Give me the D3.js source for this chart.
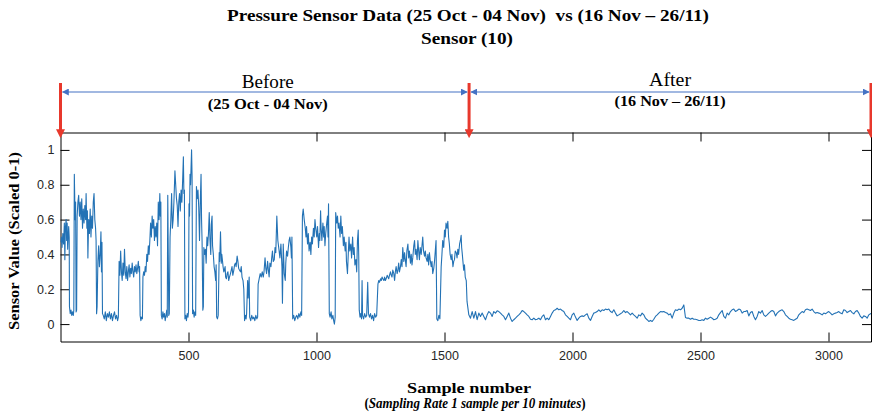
<!DOCTYPE html>
<html>
<head>
<meta charset="utf-8">
<script src="https://cdn.jsdelivr.net/npm/d3@7"></script>
<style>
body { margin: 0; background: #fff; }
svg { display: block; }
</style>
</head>
<body>
<svg width="872" height="418"></svg>
<script>
// before period: [sample, scaled value]
var beforeData = [
	[0,0.47],[3,0.5],[6,0.44],[9,0.52],[12,0.46],[15,0.58],[17,0.37],[19,0.55],[22,0.6],[24,0.48],[26,0.58],[28,0.43],[30,0.5],[32,0.56],[34,0.5],
	[35,0.1],[38,0.06],[41,0.08],[44,0.05],[47,0.07],[50,0.05],[52,0.08],
	[54,0.86],[57,0.6],[59,0.7],[61,0.07],[63,0.08],[65,0.62],
	[68,0.7],[71,0.74],[74,0.62],[77,0.7],[80,0.6],[83,0.72],[86,0.55],[89,0.66],[92,0.58],[95,0.68],[98,0.6],[100,0.75],[103,0.55],[105,0.65],[107,0.38],[110,0.6],[113,0.52],[116,0.66],[119,0.5],[122,0.62],[125,0.55],[128,0.7],[131,0.75],[134,0.6],[137,0.55],[139,0.48],
	[141,0.06],[143,0.1],[146,0.36],[149,0.45],[152,0.33],[155,0.4],[158,0.53],[160,0.3],[162,0.47],[164,0.06],
	[167,0.05],[171,0.03],[175,0.07],[179,0.02],[183,0.06],[187,0.04],[191,0.07],[195,0.03],[199,0.06],[203,0.02],[207,0.05],[211,0.07],[215,0.03],[219,0.05],[223,0.02],[226,0.04],
	[229,0.36],[232,0.28],[235,0.42],[238,0.3],[241,0.25],[244,0.35],[247,0.28],[250,0.43],[253,0.3],[256,0.26],[259,0.33],[262,0.25],[265,0.3],[268,0.34],[271,0.27],[274,0.32],[277,0.29],[280,0.35],[283,0.3],[286,0.27],[289,0.33],[292,0.3],[295,0.34],[298,0.29],[301,0.32],[304,0.36],[307,0.3],[309,0.33],
	[311,0.05],[314,0.02],[317,0.04],[320,0.03],
	[322,0.27],[325,0.3],[328,0.28],[331,0.33],[334,0.3],[337,0.4],[340,0.36],[343,0.45],[346,0.4],[349,0.48],[352,0.58],[355,0.5],[358,0.62],[361,0.55],[364,0.6],[367,0.48],[370,0.56],[373,0.5],[376,0.58],[379,0.45],[382,0.7],[385,0.6],[388,0.75],[390,0.62],[392,0.7],
	[394,0.05],[397,0.03],[400,0.07],[403,0.04],[406,0.06],[409,0.02],[412,0.05],[415,0.08],[417,0.04],
	[419,0.74],[421,0.4],[423,0.05],[425,0.06],
	[428,0.5],[431,0.6],[434,0.75],[437,0.55],[440,0.6],[443,0.7],[447,0.88],[450,0.8],[453,0.72],[456,0.68],[459,0.56],[462,0.7],[465,0.75],[468,0.65],[471,0.77],[474,0.7],[477,0.82],[480,0.96],[482,0.75],[484,0.77],
	[486,0.03],[489,0.05],[492,0.02],[495,0.06],[498,0.04],[500,0.07],
	[502,0.69],[504,0.62],[506,0.86],[508,0.8],[510,0.9],[512,1.0],[514,0.85],
	[516,0.06],[519,0.08],[522,0.04],[525,0.07],[528,0.05],
	[531,0.79],[534,0.72],[537,0.77],[540,0.67],[543,0.48],[546,0.7],[549,0.86],[551,0.6],[553,0.48],[556,0.08],[558,0.1],
	[560,0.44],[563,0.4],[566,0.43],[569,0.35],[572,0.5],[575,0.45],[578,0.52],[581,0.64],[584,0.48],[587,0.4],[589,0.57],[592,0.62],[594,0.45],[597,0.4],[600,0.33],[603,0.3],[606,0.25],[608,0.34],
	[610,0.04],[613,0.03],[616,0.05],
	[620,0.41],[622,0.36],[625,0.53],[628,0.35],[630,0.4],[633,0.36],[635,0.33],[638,0.3],[640,0.31],[643,0.33],[645,0.27],[648,0.26],[651,0.29],[654,0.3],[657,0.25],[660,0.27],[664,0.29],[667,0.31],[670,0.33],[673,0.28],[677,0.31],[680,0.34],[683,0.35],[686,0.33],[690,0.39],[693,0.36],[696,0.32],[699,0.31],[703,0.3],[706,0.33],[709,0.27],[713,0.25],[716,0.2],
	[719,0.02],[722,0.05],[725,0.03],[727,0.06],[731,0.25],[733,0.15],[737,0.27],[739,0.04],[743,0.02],[747,0.05],[751,0.03],[755,0.04],[759,0.02],[763,0.05],[767,0.03],[770,0.04],
	[772,0.23],[776,0.26],[780,0.29],[784,0.27],[788,0.3],[792,0.27],[795,0.3],[799,0.38],[802,0.32],[805,0.29],[809,0.36],[812,0.31],[815,0.27],[818,0.35],[822,0.33],[825,0.38],[828,0.42],[831,0.36],[835,0.37],[838,0.44],[841,0.41],[845,0.62],[849,0.48],[854,0.42],[857,0.38],[861,0.46],[865,0.33],[867,0.12],[870,0.46],[874,0.29],[878,0.25],[880,0.35],[883,0.42],[887,0.39],[890,0.44],[893,0.48],[896,0.5],[900,0.44],[902,0.38],[904,0.5],
	[907,0.03],[911,0.05],[915,0.02],[919,0.04],[923,0.05],[927,0.03],[931,0.06],[935,0.04],[939,0.07],[942,0.05],
	[945,0.62],[948,0.66],[952,0.6],[956,0.55],[959,0.5],[961,0.56],[965,0.46],[968,0.52],[971,0.42],[975,0.47],[978,0.4],[981,0.5],[984,0.46],[988,0.55],[991,0.5],[994,0.6],[997,0.55],[1001,0.5],[1004,0.56],[1008,0.44],[1011,0.52],[1013,0.48],[1016,0.65],[1018,0.55],[1021,0.48],[1025,0.58],[1028,0.5],[1030,0.56],[1033,0.45],[1036,0.52],[1040,0.58],[1043,0.62],[1045,0.5],[1047,0.69],
	[1050,0.06],[1053,0.04],[1057,0.07],[1060,0.03],[1064,0.05],[1067,0.02],[1070,0.0],[1073,0.04],
	[1075,0.64],[1079,0.58],[1082,0.62],[1085,0.55],[1088,0.58],[1092,0.5],[1095,0.62],[1098,0.52],[1101,0.56],[1105,0.45],[1108,0.5],[1112,0.42],[1115,0.47],[1117,0.36],[1121,0.29],[1124,0.4],[1127,0.5],[1130,0.42],[1134,0.46],[1137,0.38],[1141,0.5],[1144,0.4],[1147,0.44],[1150,0.34],[1154,0.37],[1157,0.3],[1160,0.48],[1163,0.54],[1165,0.39],
	[1167,0.08],[1170,0.04],[1173,0.06],[1176,0.03],[1178,0.25],[1180,0.05],[1184,0.03],[1188,0.06],[1192,0.04],[1196,0.05],[1200,0.24],[1203,0.06],[1207,0.04],[1211,0.06],[1215,0.03],[1219,0.05],[1223,0.02],[1227,0.06],[1231,0.04],[1235,0.05],
	[1240,0.23],[1243,0.25],[1246,0.24],[1250,0.26],[1253,0.25],[1256,0.27],[1259,0.26],[1263,0.25],[1266,0.27],[1269,0.25],[1272,0.26],[1276,0.28],[1279,0.27],[1282,0.26],[1285,0.28],[1289,0.3],[1292,0.28],[1295,0.27],[1298,0.31],[1302,0.29],[1305,0.25],[1308,0.3],[1311,0.33],[1315,0.29],[1318,0.31],[1321,0.35],[1324,0.3],[1328,0.33],[1331,0.37],[1334,0.33],[1337,0.44],[1341,0.36],[1344,0.41],[1346,0.38],[1350,0.33],[1353,0.42],[1357,0.46],[1360,0.38],[1363,0.42],[1367,0.35],[1370,0.4],[1373,0.34],[1376,0.38],[1380,0.45],[1383,0.48],[1386,0.4],[1389,0.43],[1393,0.37],[1396,0.48],[1399,0.42],[1402,0.37],[1405,0.44],[1409,0.4],[1412,0.45],[1415,0.5],[1418,0.42],[1422,0.39],[1425,0.42],[1428,0.38],[1432,0.36],[1435,0.4],[1438,0.34],[1441,0.41],[1444,0.37],[1448,0.33],[1451,0.36],[1454,0.29],[1458,0.32],[1461,0.36],[1464,0.42],[1467,0.48],
	[1470,0.03],[1474,0.02],[1478,0.05],[1482,0.03],
	[1487,0.33],[1490,0.4],[1493,0.48],[1497,0.44],[1500,0.54],[1503,0.5],[1506,0.58],[1510,0.55],[1513,0.59],[1516,0.5],[1519,0.46],[1522,0.4],[1526,0.37],[1529,0.4],[1533,0.33],[1536,0.36],[1539,0.37],[1542,0.42],[1546,0.41],[1549,0.38],[1552,0.43],[1555,0.4],[1559,0.46],[1562,0.48],[1565,0.51],[1567,0.44],[1569,0.41],[1572,0.36],[1575,0.31],[1578,0.34],[1581,0.27],[1585,0.25],
	[1588,0.13]
];

// after period: evenly spaced readings from sample 1595
var afterStart = 1595, afterStep = 6.51;
var afterValues = [
	0.053,0.034,0.072,0.034,0.072,0.025,0.063,0.044,0.063,0.044,
	0.025,0.053,0.072,0.063,0.044,0.072,0.063,0.076,0.072,0.063,
	0.053,0.044,0.025,0.044,0.063,0.034,0.015,0.025,0.034,0.044,
	0.053,0.063,0.078,0.072,0.063,0.053,0.044,0.028,0.025,0.034,
	0.025,0.028,0.034,0.025,0.044,0.053,0.025,0.034,0.025,0.044,
	0.063,0.078,0.082,0.091,0.082,0.086,0.078,0.072,0.053,0.044,
	0.034,0.025,0.053,0.063,0.04,0.021,0.034,0.044,0.047,0.044,
	0.053,0.059,0.034,0.021,0.044,0.063,0.066,0.072,0.082,0.072,
	0.082,0.078,0.086,0.082,0.086,0.072,0.066,0.082,0.063,0.047,
	0.053,0.059,0.066,0.078,0.066,0.072,0.063,0.053,0.063,0.053,
	0.044,0.034,0.053,0.047,0.063,0.053,0.034,0.025,0.015,0.021,
	0.015,0.028,0.044,0.053,0.063,0.072,0.07,0.072,0.066,0.063,
	0.053,0.059,
	0.034,0.063,0.082,0.078,0.086,0.082,0.091,0.11,0.038,0.034,
	0.034,0.028,0.034,0.028,0.028,0.025,0.021,0.021,0.025,0.021,
	0.034,0.028,0.034,0.04,0.034,0.025,0.028,0.034,0.053,0.066,
	0.078,0.044,0.034,0.063,0.053,0.072,0.082,0.086,0.072,0.078,
	0.086,0.082,0.063,0.072,0.072,0.078,0.047,0.066,0.072,0.044,
	0.025,0.044,0.072,0.063,0.078,0.053,0.044,0.053,0.063,0.072,
	0.078,0.072,0.047,0.063,0.072,0.078,0.082,0.072,0.053,0.044,
	0.034,0.028,0.025,0.021,0.028,0.034,0.053,0.063,0.072,0.066,
	0.082,0.086,0.082,0.078,0.086,0.072,0.063,0.066,0.063,0.059,
	0.053,0.063,0.059,0.066,0.072,0.063,0.053,0.059,0.063,0.066,
	0.072,0.063,0.059,0.082,0.078,0.066,0.072,0.078,0.066,0.059,
	0.072,0.078,0.063,0.044,0.034,0.047,0.044,0.034,0.053,0.059,
	0.063
];

var xTicks = [500, 1000, 1500, 2000, 2500, 3000];
var yTicks = [0, 0.2, 0.4, 0.6, 0.8, 1];
var periodBounds = [0, 1596, 3166];
var periodNames = ['Before', 'After'];
var periodDates = ['(25 Oct - 04 Nov)', '(16 Nov \u2013 26/11)'];

var serif = '"Liberation Serif", "Times New Roman", serif';
var sans = '"Liberation Sans", Arial, sans-serif';

var svg = d3.select('svg');
var plotLeft = 60.5, plotRight = 871, plotTop = 132.5, plotBottom = 341.5;

var x = d3.scaleLinear().domain([0, 3166]).range([plotLeft, plotRight]);
var y = d3.scaleLinear().domain([-0.1, 1.1]).range([plotBottom, plotTop]);

var series = beforeData.concat(afterValues.map(function(v, i) {
	return [afterStart + i * afterStep, v];
}));

var defs = svg.append('defs');
defs.append('clipPath').attr('id', 'plot-clip')
	.append('rect')
	.attr('x', plotLeft).attr('y', plotTop)
	.attr('width', plotRight - plotLeft).attr('height', plotBottom - plotTop);
defs.append('marker')
	.attr('id', 'red-head')
	.attr('viewBox', '0 0 10 10')
	.attr('refX', 2).attr('refY', 5)
	.attr('markerWidth', 9).attr('markerHeight', 9)
	.attr('markerUnits', 'userSpaceOnUse')
	.attr('orient', 'auto')
	.append('path').attr('d', 'M0,0L10,5L0,10z').attr('fill', '#e8382c');
defs.append('marker')
	.attr('id', 'blue-head')
	.attr('viewBox', '0 0 10 10')
	.attr('refX', 9).attr('refY', 5)
	.attr('markerWidth', 7).attr('markerHeight', 7)
	.attr('markerUnits', 'userSpaceOnUse')
	.attr('orient', 'auto-start-reverse')
	.append('path').attr('d', 'M0,0L10,5L0,10z').attr('fill', '#4472c4');

// serif labels in the source are stretched sideways, so fix their width
function serifText(px, py, size, width, str) {
	return svg.append('text').attr('x', px).attr('y', py)
		.attr('text-anchor', 'middle').attr('font-family', serif)
		.attr('font-size', size)
		.attr('textLength', width).attr('lengthAdjust', 'spacingAndGlyphs')
		.text(str);
}

// titles
serifText(468, 21, 17, 482, 'Pressure Sensor Data (25 Oct - 04 Nov)  vs (16 Nov \u2013 26/11)')
	.attr('font-weight', 'bold').attr('xml:space', 'preserve');
serifText(467, 44, 17, 92, 'Sensor (10)').attr('font-weight', 'bold');

// axes (box style, ticks pointing inward)
function styleAxis(g) {
	g.attr('font-family', sans).attr('font-size', 12.5);
	g.selectAll('path, line').attr('stroke', '#000').attr('stroke-width', 1);
	g.selectAll('text').attr('fill', '#262626');
}
svg.append('g')
	.attr('transform', 'translate(0,' + plotBottom + ')')
	.call(d3.axisBottom(x).tickValues(xTicks).tickSizeInner(-9).tickSizeOuter(0).tickPadding(10)
		.tickFormat(d3.format('d')))
	.call(styleAxis);
svg.append('g')
	.attr('transform', 'translate(0,' + plotTop + ')')
	.call(d3.axisTop(x).tickValues(xTicks).tickSizeInner(-9).tickSizeOuter(0).tickFormat(''))
	.call(styleAxis);
svg.append('g')
	.attr('transform', 'translate(' + plotLeft + ',0)')
	.call(d3.axisLeft(y).tickValues(yTicks).tickSizeInner(-9).tickSizeOuter(0).tickPadding(6)
		.tickFormat(d3.format('~g')))
	.call(styleAxis);
svg.append('g')
	.attr('transform', 'translate(' + plotRight + ',0)')
	.call(d3.axisRight(y).tickValues(yTicks).tickSizeInner(-9).tickSizeOuter(0).tickFormat(''))
	.call(styleAxis);

// sensor line
var line = d3.line()
	.x(function(d) { return x(d[0]); })
	.y(function(d) { return y(d[1]); });
svg.append('path')
	.datum(series)
	.attr('clip-path', 'url(#plot-clip)')
	.attr('fill', 'none')
	.attr('stroke', '#2372b5')
	.attr('stroke-width', 1.1)
	.attr('stroke-linejoin', 'round')
	.attr('d', line);

// period annotations
periodBounds.forEach(function(b) {
	svg.append('line')
		.attr('x1', x(b)).attr('x2', x(b))
		.attr('y1', 83).attr('y2', 131)
		.attr('stroke', '#e8382c').attr('stroke-width', 3)
		.attr('marker-end', 'url(#red-head)');
});
var nameWidths = [52, 42], dateWidths = [120, 111];
periodNames.forEach(function(name, i) {
	var x0 = x(periodBounds[i]), x1 = x(periodBounds[i + 1]);
	var mid = (x0 + x1) / 2 + (i == 0 ? 3 : 0);
	svg.append('line')
		.attr('x1', x0 + 2).attr('x2', x1 - 2)
		.attr('y1', 92).attr('y2', 92)
		.attr('stroke', '#4472c4').attr('stroke-width', 1.2)
		.attr('marker-start', 'url(#blue-head)')
		.attr('marker-end', 'url(#blue-head)');
	serifText(mid, 88 - i * 2, 18, nameWidths[i], name);
	serifText(mid, 108.5 - i * 3, 14, dateWidths[i], periodDates[i]).attr('font-weight', 'bold');
});

// axis titles
serifText(0, 0, 15, 178, 'Sensor Value (Scaled 0-1)')
	.attr('transform', 'translate(19,241) rotate(-90)')
	.attr('font-weight', 'bold');
serifText(469, 393, 15, 124, 'Sample number').attr('font-weight', 'bold');
var sub = svg.append('text')
	.attr('transform', 'translate(475,408) scale(0.93,1)')
	.attr('text-anchor', 'middle').attr('font-family', serif)
	.attr('font-size', 14).attr('font-weight', 'bold');
sub.append('tspan').text('(');
sub.append('tspan').attr('font-style', 'italic').text('Sampling Rate 1 sample per 10 minutes');
sub.append('tspan').text(')');
</script>
</body>
</html>
